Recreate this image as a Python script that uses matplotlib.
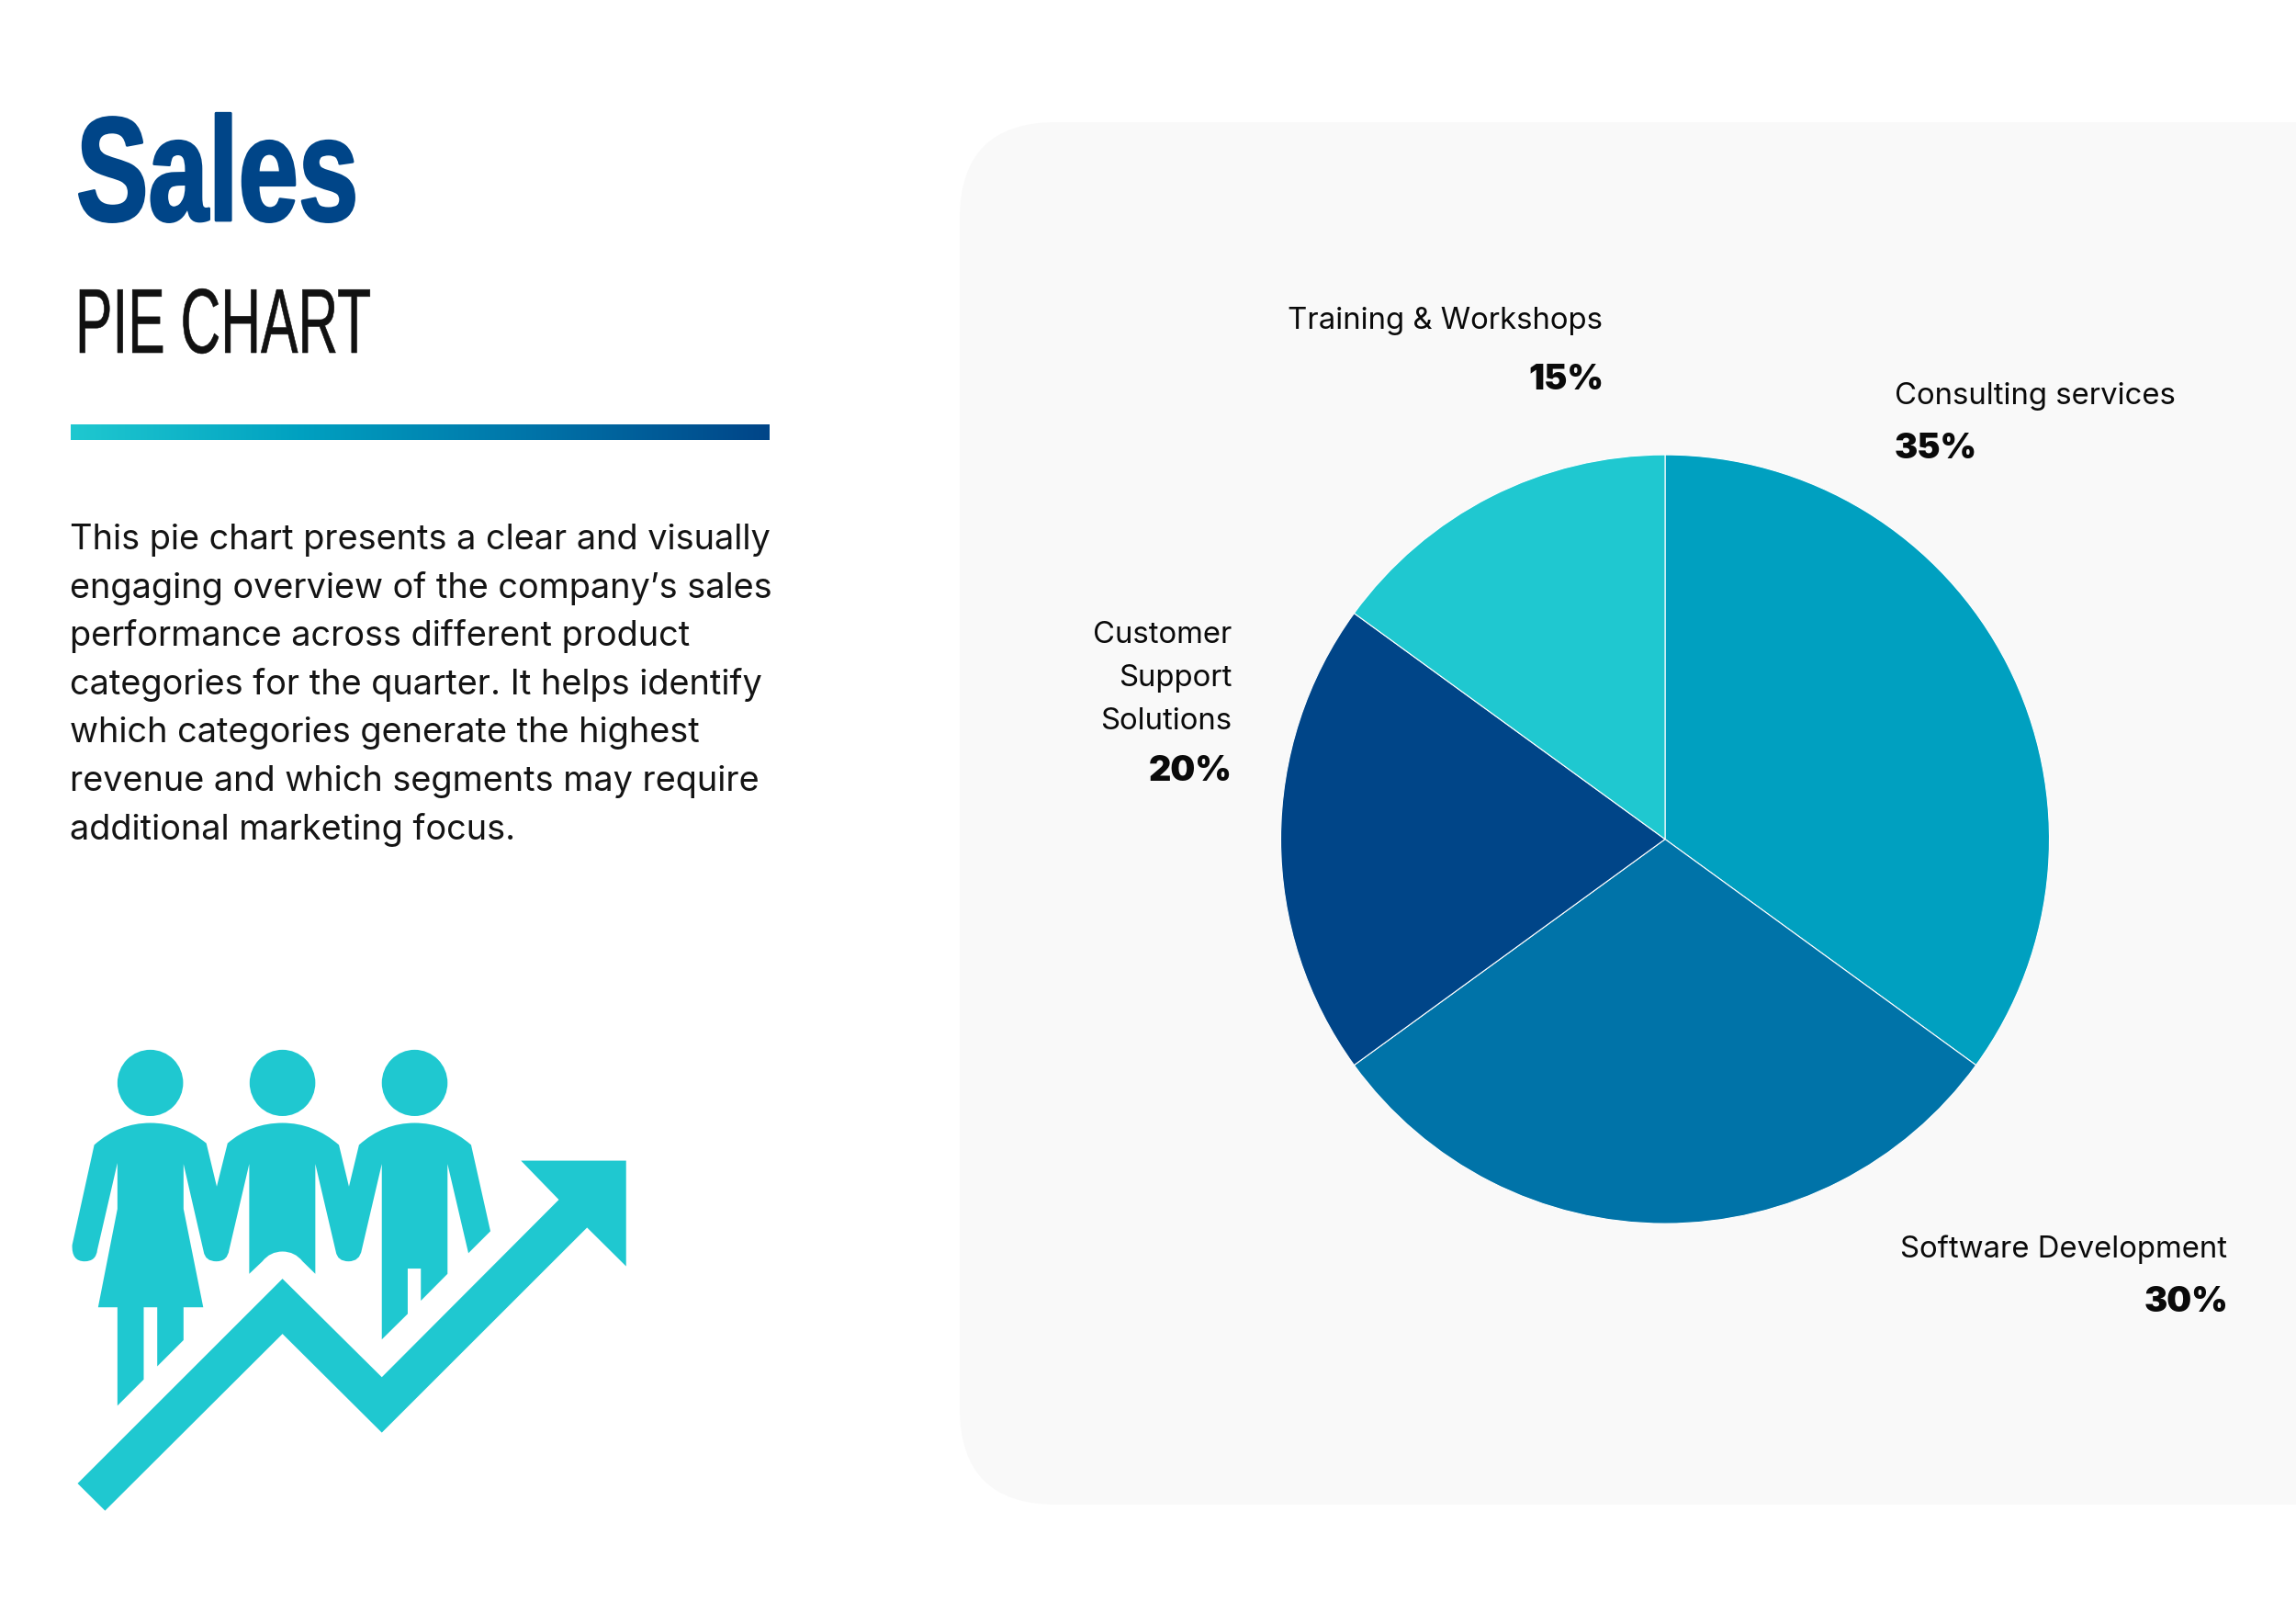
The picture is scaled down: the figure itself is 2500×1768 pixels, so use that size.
import numpy as np
import matplotlib
matplotlib.use('Agg')
import matplotlib.pyplot as plt
import matplotlib.patches as patch
import matplotlib.patheffects as pe
from matplotlib.path import Path
from matplotlib.transforms import Affine2D
from matplotlib.colors import LinearSegmentedColormap

# data
categories = ['Consulting services', 'Software Development', 'Customer Support Solutions', 'Training & Workshops']
values     = [35, 30, 20, 15]
colors     = ['#00A0C0', '#0073A8', '#004588', '#1FC8D0']

title    = 'Sales'
subtitle = 'PIE CHART'
body = ['This pie chart presents a clear and visually',
        'engaging overview of the company\u2019s sales',
        'performance across different product',
        'categories for the quarter. It helps identify',
        'which categories generate the highest',
        'revenue and which segments may require',
        'additional marketing focus.']

W, H = 2500, 1768
TEAL = '#1FC8D0'
NAVY = '#004588'
BODYFONT = 'Inter'
NARROW = 'Liberation Sans'


class Squeeze(pe.AbstractPathEffect):
    # squeeze glyphs sideways about x0, no condensed display font is installed
    def __init__(self, x0, sx, lw=0):
        super().__init__()
        self.x0, self.sx, self.lw = x0, sx, lw

    def draw_path(self, renderer, gc, tpath, affine, rgbFace=None):
        sq = Affine2D().translate(-self.x0, 0).scale(self.sx, 1).translate(self.x0, 0)
        gc0 = renderer.new_gc()
        gc0.copy_properties(gc)
        if self.lw > 0:
            gc0.set_foreground(rgbFace)
            gc0.set_linewidth(self.lw)
        renderer.draw_path(gc0, tpath, affine + sq, rgbFace)
        gc0.restore()


fig01 = plt.figure(figsize=(W/100, H/100), dpi=100, facecolor='white')
axs01 = fig01.add_axes([0, 0, 1, 1])
axs01.set_xlim(0, W)
axs01.set_ylim(H, 0)
axs01.axis('off')

# grey panel, runs off the right edge
panel = patch.FancyBboxPatch((1150, 238), 1600, 1295, boxstyle='round,pad=105,rounding_size=105',
                             facecolor='#F9F9F9', edgecolor='none', zorder=0)
axs01.add_patch(panel)

# heading
axs01.text(83, 240, title, fontsize=116, fontweight='bold', family=NARROW, color=NAVY, va='baseline',
           path_effects=[Squeeze(83, 0.73, lw=2.0)])
axs01.text(82, 384, subtitle, fontsize=72, family=NARROW, color='#111111', va='baseline',
           path_effects=[Squeeze(82, 0.606, lw=0.4)])

# gradient rule
cmap01 = LinearSegmentedColormap.from_list('rule', [TEAL, '#00A0C0', '#0073A8', NAVY])
axs01.imshow(np.linspace(0, 1, 256)[None, :], extent=(77, 838, 479, 462), cmap=cmap01, aspect='auto', zorder=1)
axs01.set_xlim(0, W)
axs01.set_ylim(H, 0)

# paragraph
ybase = 598
for line in body:
    axs01.text(76.5, ybase, line, fontsize=27.3, family=BODYFONT, color='#141414', va='baseline')
    ybase += 52.6

# icon
def iconxy(pts):
    pts = np.array(pts, dtype=float)
    return np.column_stack((50 + pts[:, 0]/2.376, 1100 + pts[:, 1]/2.8))

for hx in [270, 612, 954]:
    cx, cy = iconxy([(hx, 221)])[0]
    axs01.add_patch(patch.Ellipse((cx, cy), 170/2.376, 202/2.8, facecolor=TEAL, edgecolor='none'))

arrow = [(82, 1442), (612, 818), (869, 1118), (1327, 577), (1229, 458), (1501, 458), (1501, 780),
         (1400, 662), (869, 1287), (612, 986), (153, 1525)]
axs01.add_patch(patch.Polygon(iconxy(arrow), closed=True, facecolor=TEAL, edgecolor='none'))

L, C = Path.LINETO, Path.CURVE3
people = [(Path.MOVETO, (125, 410)), (L, (68, 715)), (C, (66, 765)), (C, (100, 765)), (C, (130, 765)), (C, (133, 730)),
          (L, (185, 465)), (L, (185, 605)), (L, (135, 905)), (L, (185, 905)), (L, (185, 1205)), (L, (253, 1125)),
          (L, (253, 905)), (L, (288, 905)), (L, (288, 1085)), (L, (356, 1005)), (L, (356, 905)), (L, (407, 905)),
          (L, (356, 605)), (L, (356, 468)), (L, (408, 735)), (C, (412, 765)), (C, (441, 765)), (C, (470, 765)),
          (C, (474, 730)), (L, (526, 468)), (L, (526, 803)), (L, (560, 765)), (C, (580, 735)), (C, (612, 735)),
          (C, (644, 735)), (C, (664, 765)), (L, (697, 803)), (L, (697, 468)), (L, (750, 735)), (C, (754, 765)),
          (C, (783, 765)), (C, (812, 765)), (C, (817, 730)), (L, (869, 468)), (L, (869, 1003)), (L, (936, 925)),
          (L, (936, 787)), (L, (970, 787)), (L, (970, 885)), (L, (1039, 803)), (L, (1039, 468)), (L, (1093, 740)),
          (L, (1150, 673)), (L, (1100, 410)), (C, (1035, 343)), (C, (954, 343)), (C, (873, 343)), (C, (810, 410)),
          (L, (784, 537)), (L, (758, 410)), (C, (693, 343)), (C, (612, 343)), (C, (531, 343)), (C, (470, 405)),
          (L, (442, 537)), (L, (415, 405)), (C, (351, 343)), (C, (270, 343)), (C, (189, 343)), (C, (125, 410)),
          (Path.CLOSEPOLY, (125, 410))]
axs01.add_patch(patch.PathPatch(Path(iconxy([p[1] for p in people]), [p[0] for p in people]),
                                facecolor=TEAL, edgecolor='none'))

# pie
cx, cy, rad = 1813, 913.6, 418.5
axs02 = fig01.add_axes([(cx-rad)/W, 1-(cy+rad)/H, 2*rad/W, 2*rad/H])
axs02.pie(values, colors=colors, startangle=90, counterclock=False, radius=1,
          wedgeprops=dict(edgecolor='white', linewidth=0.8))
axs02.set_xlim(-1, 1)
axs02.set_ylim(-1, 1)

# labels
LAB = 23.7
PCT = 27.3
TXT = '#0A0A0A'
axs01.text(1745, 358, categories[3], fontsize=LAB, family=BODYFONT, ha='right', va='baseline', color=TXT)
axs01.text(1746, 424, '%d%%' % values[3], fontsize=PCT, family=BODYFONT, fontweight='black', ha='right', va='baseline', color=TXT)
axs01.text(2063, 440, categories[0], fontsize=LAB, family=BODYFONT, ha='left', va='baseline', color=TXT)
axs01.text(2063, 499, '%d%%' % values[0], fontsize=PCT, family=BODYFONT, fontweight='black', ha='left', va='baseline', color=TXT)
ybase = 700
for word in categories[2].split():
    axs01.text(1341, ybase, word, fontsize=LAB, family=BODYFONT, ha='right', va='baseline', color=TXT)
    ybase += 47.0
axs01.text(1342, 850, '%d%%' % values[2], fontsize=PCT, family=BODYFONT, fontweight='black', ha='right', va='baseline', color=TXT)
axs01.text(2425, 1369, categories[1], fontsize=LAB, family=BODYFONT, ha='right', va='baseline', color=TXT)
axs01.text(2426, 1428, '%d%%' % values[1], fontsize=PCT, family=BODYFONT, fontweight='black', ha='right', va='baseline', color=TXT)

fig01.savefig('out.png', dpi=100)
plt.close()
